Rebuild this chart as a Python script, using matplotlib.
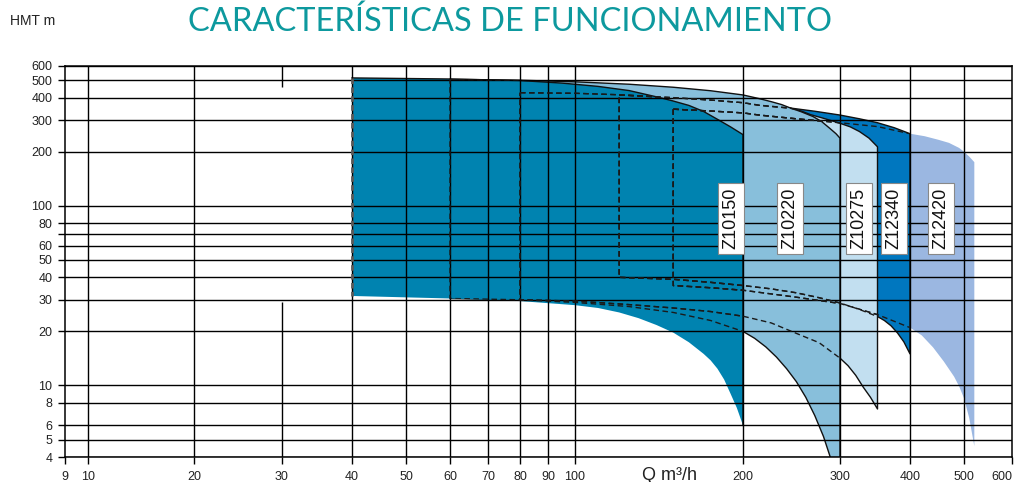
import numpy as np
import matplotlib
matplotlib.use("Agg")
import matplotlib.pyplot as plt
from matplotlib.ticker import NullLocator

plt.rcParams['font.family'] = ['Liberation Sans', 'DejaVu Sans']

# ---- curve data (Q m3/h, HMT m) ----
z10150_top_q = [40, 60, 80, 95, 110, 125, 142, 150, 160, 170, 180, 190, 200]
z10150_top_h = [515, 508, 498, 482, 462, 438, 400, 383, 362, 335, 303, 275, 249]
z10150_bot_q = [40, 60, 80, 100, 110, 120, 130, 140, 150, 160, 170, 175, 180, 185, 190, 195, 200]
z10150_bot_h = [31.5, 30.5, 29.5, 28, 27, 25.5, 23.7, 21.7, 19.7, 17.4, 15, 13.8, 12.4, 10.8, 9, 7.5, 6]

z10220_top_q = [60, 80, 100, 125, 150, 175, 200, 214, 225, 235, 244, 255, 268, 278, 287, 295, 300]
z10220_top_h = [506, 500, 490, 475, 457, 437, 414, 395, 380, 366, 350, 334, 314, 294, 271, 252, 238]
z10220_bot_q = [60, 80, 100, 125, 150, 175, 200, 210, 220, 230, 240, 250, 260, 270, 280, 288, 295, 300]
z10220_bot_h = [30.5, 30, 29, 27.5, 25.5, 23, 20, 18.3, 16.4, 14.4, 12.4, 10.5, 8.6, 6.8, 5.2, 4, 3.2, 2.6]

z10275_top_q = [80, 100, 120, 150, 175, 200, 214, 244, 255, 265, 280, 300, 313, 325, 338, 350]
z10275_top_h = [426, 423, 415, 400, 388, 375, 363, 349, 337, 322, 307, 288, 275, 259, 238, 213]
z10275_bot_q = [80, 100, 125, 150, 175, 200, 225, 250, 275, 300, 310, 320, 330, 340, 350]
z10275_bot_h = [30, 29.5, 28.2, 27, 25.8, 24.3, 22.3, 19.5, 17.3, 14.2, 12.9, 11.4, 9.8, 8.6, 7.4]

z12340_top_q = [120, 150, 175, 200, 214, 244, 270, 300, 325, 350, 375, 400]
z12340_top_h = [414, 400, 388, 375, 363, 350, 336, 320, 305, 290, 272, 252]
z12340_bot_q = [120, 150, 175, 200, 225, 250, 275, 300, 325, 350, 360, 370, 380, 390, 400]
z12340_bot_h = [40, 39, 37.5, 36, 34.5, 32.8, 30.8, 28.8, 26.5, 24.2, 23, 21.5, 19.6, 17.5, 15]

z12420_top_q = [150, 175, 200, 214, 250, 300, 350, 400, 425, 450, 470, 490, 500, 510, 520]
z12420_top_h = [345, 337, 329, 320, 305, 290, 276, 252, 244, 233, 224, 210, 200, 188, 175]
z12420_bot_q = [150, 175, 200, 250, 300, 350, 400, 420, 440, 460, 480, 490, 500, 510, 520]
z12420_bot_h = [36, 35, 33.9, 31, 28.6, 24.8, 21, 19, 16.3, 13.6, 11.2, 9.9, 8.5, 6.6, 4.6]

names = ["Z12420", "Z12340", "Z10275", "Z10220", "Z10150"]   # back to front
colors = ["#9bb7e1", "#0077bf", "#c2dff0", "#88bfdb", "#0083b0"]
label_q = [455, 374, 324, 243, 190]
label_h = 85

x_ticks = [9, 10, 20, 30, 40, 50, 60, 70, 80, 90, 100, 200, 300, 400, 500, 600]
y_ticks = [4, 5, 6, 8, 10, 20, 30, 40, 50, 60, 70, 80, 100, 200, 300, 400, 500, 600]
y_labels = [str(v) if v != 70 else "" for v in y_ticks]

# ---- the Q axis of the original sheet is log-like but not uniform ----
KNOT_Q = np.array([9, 10, 20, 30, 40, 50, 60, 70, 80, 90, 100, 200, 300, 400, 500, 600], float)
KNOT_PX = np.array([65, 88, 194, 282, 352, 406, 450, 488, 520, 548, 575, 743, 840, 910, 964, 1012], float)
LK = np.log10(KNOT_Q)
S0 = (KNOT_PX[1] - KNOT_PX[0]) / (LK[1] - LK[0])
S1 = (KNOT_PX[-1] - KNOT_PX[-2]) / (LK[-1] - LK[-2])


def fwd(q):
    lq = np.log10(np.clip(np.asarray(q, float), 1e-9, None))
    out = np.interp(lq, LK, KNOT_PX)
    out = np.where(lq < LK[0], KNOT_PX[0] + (lq - LK[0]) * S0, out)
    out = np.where(lq > LK[-1], KNOT_PX[-1] + (lq - LK[-1]) * S1, out)
    return out


def inv(p):
    p = np.asarray(p, float)
    lq = np.interp(p, KNOT_PX, LK)
    lq = np.where(p < KNOT_PX[0], LK[0] + (p - KNOT_PX[0]) / S0, lq)
    lq = np.where(p > KNOT_PX[-1], LK[-1] + (p - KNOT_PX[-1]) / S1, lq)
    return 10 ** lq


fig = plt.figure(figsize=(10.16, 4.82), dpi=100)
ax = fig.add_axes([65 / 1016, 25 / 482, 947 / 1016, 391 / 482])
ax.set_xscale('function', functions=(fwd, inv))
ax.set_yscale('log')
ax.set_xlim(9, 600)
ax.set_ylim(4, 600)
ax.set_axisbelow(False)

curves = [
    (z12420_top_q, z12420_top_h, z12420_bot_q, z12420_bot_h),
    (z12340_top_q, z12340_top_h, z12340_bot_q, z12340_bot_h),
    (z10275_top_q, z10275_top_h, z10275_bot_q, z10275_bot_h),
    (z10220_top_q, z10220_top_h, z10220_bot_q, z10220_bot_h),
    (z10150_top_q, z10150_top_h, z10150_bot_q, z10150_bot_h),
]

polys = []
outlines = []
for i, (tq, th, bq, bh) in enumerate(curves):
    xs = np.r_[tq, bq[::-1]]
    ys = np.r_[th, bh[::-1]]
    p = ax.fill(xs, ys, color=colors[i], lw=0, zorder=1 + 0.2 * i)[0]
    polys.append(p)
    outlines.append((xs, ys))
    if names[i] == "Z10150":
        # front range: only top curve and right edge are drawn solid
        ax.plot(np.r_[tq, bq[-1]], np.r_[th, bh[-1]], color='#111111', lw=1.0,
                zorder=1.1 + 0.2 * i)
    elif names[i] != "Z12420":
        ax.plot(xs, ys, color='#111111', lw=1.0, zorder=1.1 + 0.2 * i)

# hidden parts of the rear ranges: dashed, only where a front range covers them
for i, (xs, ys) in enumerate(outlines):
    xc = np.r_[xs, xs[0]]
    yc = np.r_[ys, ys[0]]
    for j in range(i + 1, len(polys)):
        ln, = ax.plot(xc, yc, color='#1a1a1a', lw=1.0, ls=(0, (4, 2.5)), zorder=3)
        ln.set_clip_path(polys[j])

# left edge of the front range
ax.plot([z10150_top_q[0], z10150_bot_q[0]], [z10150_top_h[0], z10150_bot_h[0]],
        color='#5a5a5a', lw=2.0, ls=(0, (2, 1.2)), zorder=3)

# grid
ax.yaxis.grid(True, color='black', lw=1.0)
for q in x_ticks[1:-1]:
    if q == 30:
        ax.vlines([q, q], [4, 459], [29, 600], color='black', lw=1.0, zorder=2.5)
    else:
        ax.vlines(q, 4, 600, color='black', lw=1.0, zorder=2.5)

for spine in ax.spines.values():
    spine.set_linewidth(1.1)
    spine.set_zorder(2.6)

ax.set_xticks(x_ticks, [str(v) for v in x_ticks])
ax.set_yticks(y_ticks, y_labels)
ax.xaxis.set_minor_locator(NullLocator())
ax.yaxis.set_minor_locator(NullLocator())
ax.tick_params(axis='both', direction='out', length=5, width=1, color='black',
               labelsize=9, labelcolor='#222222')
ax.tick_params(axis='x', pad=5)
ax.tick_params(axis='y', pad=4)
ax.get_xticklabels()[-1].set_horizontalalignment('right')

for i, name in enumerate(names):
    ax.text(label_q[i], label_h, name, rotation=90, ha='center', va='center',
            fontsize=13, color='#111111', zorder=5,
            bbox=dict(boxstyle='square,pad=0.25', fc='white', ec='#888888', lw=0.8))

fig.text(510 / 1016, 1 - 22 / 482, 'CARACTERÍSTICAS DE FUNCIONAMIENTO', ha='center',
         va='center', fontsize=23.5, color='#0d999e', family='Lato')
fig.text(10 / 1016, 1 - 21 / 482, 'HMT m', fontsize=10, va='center', color='#222222')
fig.text(669 / 1016, 1 - 475 / 482, 'Q m³/h', ha='center', va='center', fontsize=13,
         color='#222222')

fig.savefig('out.png', dpi=100)
